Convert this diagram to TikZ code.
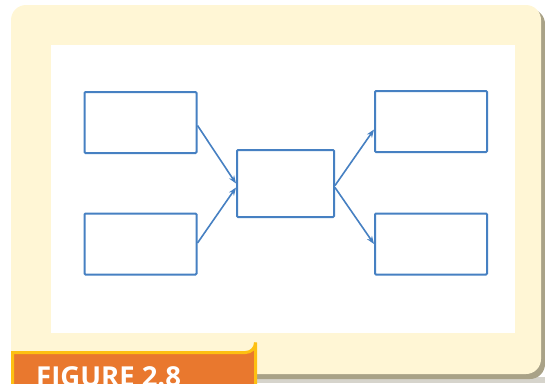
\documentclass[tikz,border=0pt]{standalone}
\usepackage{fontspec}
\newfontfamily\tabfont{Open Sans}
\usetikzlibrary{arrows.meta,calc}
\definecolor{cream}{HTML}{FFF6D5}
\definecolor{shadowc}{HTML}{A9A287}
\definecolor{lightg}{HTML}{D6D4CC}
\definecolor{tabor}{HTML}{E9782E}
\definecolor{tabyel}{HTML}{FDC012}
\definecolor{boxblue}{HTML}{4680C2}
\tikzset{
  x=1pt,y=-1pt,
  box/.style={draw=boxblue,line width=2pt,fill=white,inner sep=0pt,anchor=north west,rounded corners=1pt},
  conn/.style={draw=boxblue,line width=1.6pt,-{Stealth[length=8pt,width=6pt]}}
}
\begin{document}
\begin{tikzpicture}
\useasboundingbox (0,0) rectangle (545,383);
\clip (0,0) rectangle (545,383);
% shadow and panel
\fill[lightg] (250,377) rectangle (545,383);
\fill[shadowc,rounded corners=15] (15,9) rectangle (545,379);
\fill[cream,rounded corners=15] (11,5) rectangle (541,374);
\fill[white] (51,45) rectangle (515,333);
% boxes
\node[box,minimum width=112pt,minimum height=61pt] (lt) at (83.5,91) {};
\node[box,minimum width=112pt,minimum height=61pt] (lb) at (83.5,212.5) {};
\node[box,minimum width=97pt,minimum height=67pt] (c) at (236,149) {};
\node[box,minimum width=112pt,minimum height=61pt] (rt) at (374,90) {};
\node[box,minimum width=112pt,minimum height=61pt] (rb) at (374,212.5) {};
% connectors
\draw[conn] ([yshift=-3pt]lt.east) -- ([yshift=0pt]c.west);
\draw[conn] ([yshift=1pt]lb.east) -- ([yshift=-4pt]c.west);
\draw[conn] ([yshift=-2pt]c.east) -- ([yshift=-8pt]rt.west);
\draw[conn] ([yshift=-4pt]c.east) -- ([yshift=0pt]rb.west);
% tab
\draw[tabyel,line width=3pt,fill=tabor] (12.5,395) -- (12.5,352.5) -- (245.5,352.5)
  arc[start angle=90,end angle=0,radius=10] -- (255.5,395) -- cycle;
\node[anchor=base west,inner sep=0pt,text=white,font=\tabfont\bfseries\fontsize{27.5}{27.5}\selectfont] (lbl) at (36,386.5) {FIGURE 2.8};
\end{tikzpicture}
\end{document}
